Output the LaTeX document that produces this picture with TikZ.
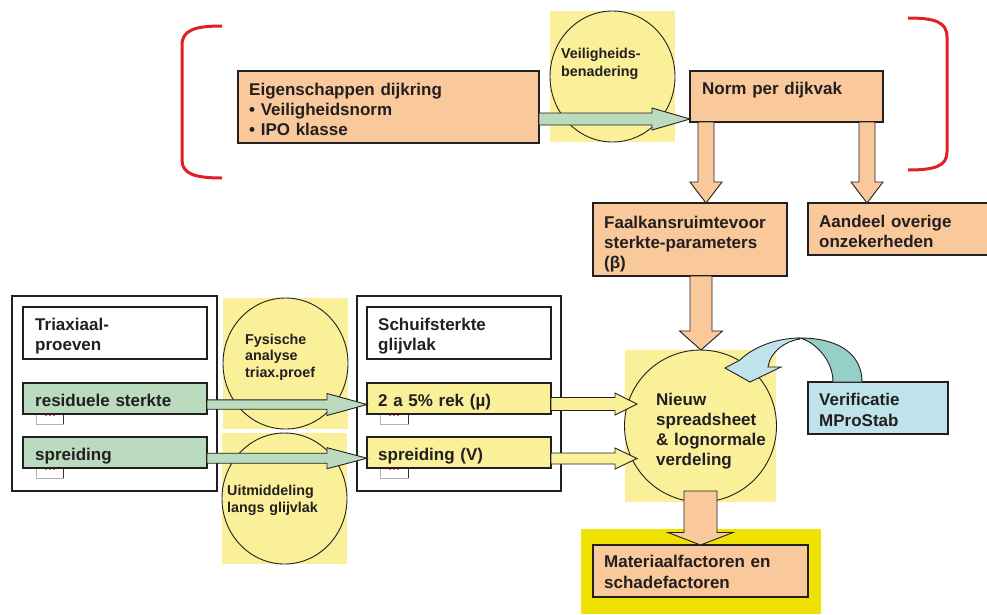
\documentclass[tikz,border=0pt]{standalone}
\usepackage{fontspec}
\setmainfont{Liberation Sans}
\usetikzlibrary{shapes.geometric,calc}
\definecolor{peach}{RGB}{249,200,155}
\definecolor{lgreen}{RGB}{186,219,190}
\definecolor{lyellow}{RGB}{250,240,153}
\definecolor{byellow}{RGB}{240,226,0}
\definecolor{lblue}{RGB}{190,227,234}
\definecolor{tealb}{RGB}{150,207,200}
\definecolor{bred}{RGB}{227,30,36}
\definecolor{ink}{RGB}{35,31,32}
\newcommand{\bigtxt}{\fontsize{17}{20}\selectfont\bfseries}
\newcommand{\smtxt}{\fontsize{14.3}{16.5}\selectfont\bfseries}
% block arrow pointing down: style, from, to, x centre, half shaft, half head, head length
\newcommand{\blockdown}[7]{%
  \path[#1] let \p1=(#2), \p2=(#3) in
    ({#4pt-#5pt},\y1) -- ({#4pt-#5pt},{\y2+#7pt}) -- ({#4pt-#6pt},{\y2+#7pt}) --
    (#4pt,\y2) -- ({#4pt+#6pt},{\y2+#7pt}) -- ({#4pt+#5pt},{\y2+#7pt}) --
    ({#4pt+#5pt},\y1) -- cycle;}
% block arrow pointing right: style, from, to, y centre, half shaft, half head, head length
\newcommand{\blockright}[7]{%
  \path[#1] let \p1=(#2), \p2=(#3) in
    (\x1,{-#4pt+#5pt}) -- ({\x2-#7pt},{-#4pt+#5pt}) -- ({\x2-#7pt},{-#4pt+#6pt}) --
    (\x2,{-#4pt}) -- ({\x2-#7pt},{-#4pt-#6pt}) -- ({\x2-#7pt},{-#4pt-#5pt}) --
    (\x1,{-#4pt-#5pt}) -- cycle;}
\tikzset{
  box/.style={rectangle, draw=ink, line width=1.1pt, inner sep=0pt, outer sep=0pt, anchor=north west},
  peachbox/.style={box, fill=peach},
  greenbox/.style={box, fill=lgreen},
  ybox/.style={box, fill=lyellow},
  whitebox/.style={box, fill=white},
  bluebox/.style={box, fill=lblue},
  panel/.style={box, fill=white, line width=1.4pt},
  bgsq/.style={rectangle, fill=lyellow, inner sep=0pt, outer sep=0pt, anchor=north west},
  bubble/.style={ellipse, draw=ink, line width=0.9pt, fill=lyellow, inner sep=0pt, outer sep=0pt},
  icon/.style={rectangle, draw=black!30, fill=white, line width=0.8pt, inner sep=0pt, outer sep=0pt, anchor=north west},
  txt/.style={anchor=base west, inner sep=0pt, align=left, text=ink, font=\bigtxt, text width=#1},
  txt/.default=220,
  stxt/.style={anchor=base west, inner sep=0pt, align=left, text=ink, font=\smtxt, text width=#1},
  stxt/.default=120,
  parrow/.style={fill=peach, draw=ink, line width=0.9pt},
  garrow/.style={fill=lgreen, draw=ink, line width=0.9pt},
  yarrow/.style={fill=lyellow, draw=ink, line width=0.9pt},
  bracket/.style={draw=bred, line width=3pt}
}
\begin{document}
\begin{tikzpicture}[x=1pt, y=-1pt]
\useasboundingbox (0,0) rectangle (987,614);

% red brackets
\draw[bracket] (222,26) .. controls (195,26) and (182,30) .. (182,45) -- (182,160)
  .. controls (182,174) and (195,178) .. (222,178);
\draw[bracket] (908,18) .. controls (935,18) and (947,22) .. (947,37) -- (947,152)
  .. controls (947,166) and (935,170) .. (908,170);

% top row
\node[bgsq, minimum width=125, minimum height=131] (vsq) at (550,11) {};
\node[bubble, minimum width=125, minimum height=131] (vcirc) at (vsq.center) {};
\node[stxt, font=\fontsize{14.3}{18.5}\selectfont\bfseries] (vtxt) at (561,58) {Veiligheids-\\benadering};

\node[peachbox, minimum width=301, minimum height=72] (eig) at (238,71) {};
\node[txt=290] (eigt) at (249,95) {Eigenschappen dijkring\\• Veiligheidsnorm\\• IPO klasse};

\node[peachbox, minimum width=193, minimum height=51] (norm) at (690,71) {};
\node[txt=180] (normt) at (702,94) {Norm per dijkvak};

\blockright{garrow}{eig.east}{norm.west}{119}{6}{11}{38}

\node[peachbox, minimum width=194, minimum height=73] (faal) at (593,203) {};
\node[txt=185] (faalt) at (604,228) {Faalkansruimtevoor\\sterkte-parameters\\(β)};
\node[peachbox, minimum width=185, minimum height=52] (aand) at (808,203) {};
\node[txt=175] (aandt) at (819,227) {Aandeel overige\\onzekerheden};

\blockdown{parrow}{norm.south}{faal.north}{706}{8}{16}{21}
\blockdown{parrow}{norm.south}{aand.north}{867}{8}{16}{21}

% left panel
\node[panel, minimum width=205, minimum height=195] (p1) at (12,296) {};
\node[whitebox, minimum width=184, minimum height=52] (triax) at (23,307) {};
\node[txt=180] (triaxt) at (35,330) {Triaxiaal-\\proeven};
\node[icon, minimum width=27, minimum height=11] (ic1) at (36,413) {};
\node[icon, minimum width=27, minimum height=11] (ic2) at (36,467) {};
\draw[black!80, line width=1pt] (ic1.north east) -- (ic1.south east);
\draw[black!80, line width=1pt] (ic2.north east) -- (ic2.south east);
\draw[bred!70, line width=1pt, dash pattern=on 2pt off 2pt] ($(ic1.north)+(-5,2)$) -- ($(ic1.north)+(5,2)$);
\draw[bred!70, line width=1pt, dash pattern=on 2pt off 2pt] ($(ic2.north)+(-5,2)$) -- ($(ic2.north)+(5,2)$);
\node[greenbox, minimum width=184, minimum height=31] (resid) at (23,383) {};
\node[txt=180] (residt) at (35,406) {residuele sterkte};
\node[greenbox, minimum width=184, minimum height=31] (spr1) at (23,437) {};
\node[txt=180] (spr1t) at (35,460) {spreiding};

% middle circles
\node[bgsq, minimum width=125, minimum height=131] (fsq) at (223,298) {};
\node[bubble, minimum width=125, minimum height=131] (fcirc) at (fsq.center) {};
\node[stxt, font=\fontsize{14.3}{16.5}\selectfont\bfseries] (ftxt) at (245,344) {Fysische\\analyse\\triax.proef};
\node[bgsq, minimum width=125, minimum height=131] (usq) at (222,433) {};
\node[bubble, minimum width=125, minimum height=131] (ucirc) at (usq.center) {};
\node[stxt, font=\fontsize{14.3}{17}\selectfont\bfseries] (utxt) at (227,495) {Uitmiddeling\\langs glijvlak};

% right panel
\node[panel, minimum width=204, minimum height=195] (p2) at (357,296) {};
\node[whitebox, minimum width=184, minimum height=52] (schuif) at (367,307) {};
\node[txt=180] (schuift) at (378,330) {Schuifsterkte\\glijvlak};
\node[icon, minimum width=28, minimum height=11] (ic3) at (380,413) {};
\node[icon, minimum width=28, minimum height=11] (ic4) at (380,467) {};
\draw[black!80, line width=1pt] (ic3.north east) -- (ic3.south east);
\draw[black!80, line width=1pt] (ic4.north east) -- (ic4.south east);
\draw[bred!70, line width=1pt, dash pattern=on 2pt off 2pt] ($(ic3.north)+(-5,2)$) -- ($(ic3.north)+(5,2)$);
\draw[bred!70, line width=1pt, dash pattern=on 2pt off 2pt] ($(ic4.north)+(-5,2)$) -- ($(ic4.north)+(5,2)$);
\node[ybox, minimum width=184, minimum height=31] (rek) at (367,383) {};
\node[txt=180] (rekt) at (378,406) {2 a 5\% rek (µ)};
\node[ybox, minimum width=184, minimum height=31] (spr2) at (367,437) {};
\node[txt=180] (spr2t) at (378,460) {spreiding (V)};

% green arrows
\blockright{garrow}{resid.east}{rek.west}{404.5}{4.7}{11}{40}
\blockright{garrow}{spr1.east}{spr2.west}{458.2}{5}{10.5}{40}

% Nieuw circle
\node[bgsq, minimum width=151, minimum height=152] (nsq) at (625,350) {};
\node[bubble, minimum width=152, minimum height=152] (nieuw) at (nsq.center) {};
\coordinate (tip1) at (637,404);
\coordinate (tip2) at (637,458.5);
\coordinate (nieuwout) at (700,491);
\blockright{yarrow}{rek.east}{tip1}{404}{6.5}{11}{22}
\blockright{yarrow}{spr2.east}{tip2}{458.5}{5.5}{10.5}{22}
\blockdown{parrow}{faal.south}{nieuw.north}{701}{11}{21.5}{19}
\node[txt=140] (nieuwt) at (656,405) {Nieuw\\spreadsheet\\\& lognormale\\verdeling};

% Verificatie
\node[bluebox, minimum width=140, minimum height=52] (verif) at (808,382) {};
\node[txt=130, font=\fontsize{17}{21}\selectfont\bfseries] (veriftxt) at (819,405) {Verificatie\\MProStab};
\coordinate (cvA) at (862,382);
\coordinate (cvB) at (833,382);
\filldraw[fill=tealb, draw=ink, line width=0.9pt] (cvA) .. controls (862,355) and (840,338) .. (800,338)
  .. controls (815,342) and (833,360) .. (cvB) -- cycle;
\filldraw[fill=lblue, draw=ink, line width=0.9pt] (800,338) .. controls (775,338) and (752,348) .. (740,360)
  -- (725,368) -- (750,382) -- (781,367) -- (768,367) .. controls (770,352) and (785,341) .. (800,339) -- cycle;

% Materiaal
\node[rectangle, fill=byellow, inner sep=0pt, outer sep=0pt, anchor=north west, minimum width=240, minimum height=85] (msq) at (581,529) {};
\node[peachbox, minimum width=215, minimum height=52] (mat) at (593,545) {};
\node[txt=205, font=\fontsize{17}{21}\selectfont\bfseries] (matt) at (604,567) {Materiaalfactoren en\\schadefactoren};
\blockdown{parrow}{nieuwout}{mat.north}{700.5}{16.5}{32.5}{12.5}
\end{tikzpicture}
\end{document}
